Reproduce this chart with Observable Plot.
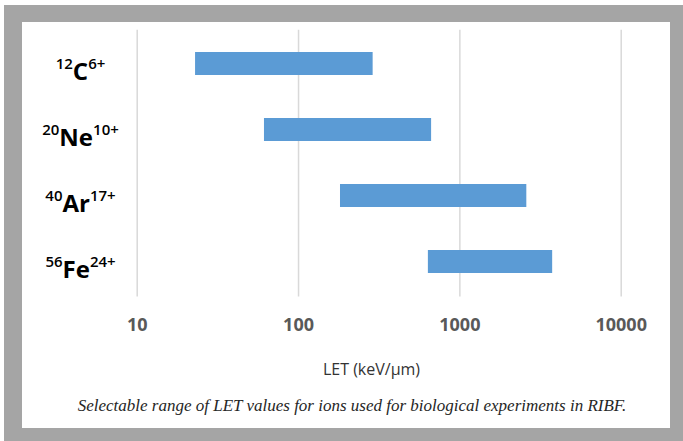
<!DOCTYPE html>
<html>
<head>
<meta charset="utf-8">
<script src="https://cdn.jsdelivr.net/npm/d3@7"></script>
<script src="https://cdn.jsdelivr.net/npm/@observablehq/plot@0.6"></script>
<style>
  html, body { margin: 0; padding: 0; background: #ffffff; width: 683px; height: 441px; overflow: hidden; }
  #frame { position: absolute; left: 4px; top: 5px; width: 679px; height: 436px; background: #a5a5a5; }
  #inner { position: absolute; left: 22px; top: 22px; width: 648px; height: 406px; background: #ffffff; }
  #chart { position: absolute; left: 22px; top: 22px; width: 648px; }
  #caption { position: absolute; left: 352px; top: 396px; transform: translateX(-50%); white-space: nowrap;
             font-family: "Liberation Serif", "DejaVu Serif", serif; font-style: italic; font-size: 17px; color: #262626; }
  g[aria-label="x-axis tick label"] text { font-weight: bold; fill: #595959; }
</style>
</head>
<body>
<div id="frame"></div>
<div id="inner"></div>
<div id="chart"></div>
<div id="caption"></div>
<script>
// ---- data ----
const ions = ["C", "Ne", "Ar", "Fe"];
const massNumbers = ["12", "20", "40", "56"];
const charges = ["6+", "10+", "17+", "24+"];
const letMin = [23, 61.5, 182, 638];
const letMax = [290, 668, 2600, 3760];
const xTicks = [10, 100, 1000, 10000];
const xLabel = "LET (keV/\u00B5m)";
const captionText = "Selectable range of LET values for ions used for biological experiments in RIBF.";

const rows = ions.map((ion, i) => ({ion, mass: massNumbers[i], charge: charges[i], lo: letMin[i], hi: letMax[i]}));

const svg = Plot.plot({
  width: 648,
  height: 370,
  marginLeft: 114.7,
  marginRight: 49.3,
  marginTop: 7.65,
  marginBottom: 95.6,
  x: {type: "log", domain: [10, 10000]},
  y: {type: "band", domain: ions, paddingInner: 0.65, paddingOuter: 0.325, axis: null},
  style: {fontFamily: "'Open Sans', sans-serif", background: "transparent", overflow: "visible"},
  marks: [
    Plot.gridX(xTicks, {stroke: "#d9d9d9", strokeOpacity: 1, strokeWidth: 1.5}),
    Plot.barX(rows, {x1: "lo", x2: "hi", y: "ion", fill: "#5b9bd5"}),
    Plot.axisX(xTicks, {tickSize: 0, tickPadding: 21, tickFormat: d => String(d), fontSize: 18, label: null}),
    Plot.text(rows, {y: "ion", text: "ion", frameAnchor: "left", dx: -56.7, textAnchor: "middle", fontSize: 24, fontWeight: "bold", fill: "#000000"}),
    Plot.text([xLabel], {text: d => d, frameAnchor: "bottom", dx: -7.7, dy: 73, fontSize: 16, fill: "#333333", lineAnchor: "middle"})
  ]
});

// superscript formatting of ion labels
const byIon = new Map(rows.map(r => [r.ion, r]));
const textGroups = svg.querySelectorAll('g[aria-label="text"]');
if (textGroups.length) {
  const g = textGroups[0];
  g.removeAttribute("dy");
  g.querySelectorAll("text").forEach(t => {
    const r = byIon.get(t.textContent);
    if (!r) return;
    t.removeAttribute("dy");
    t.textContent = "";
    const ns = "http://www.w3.org/2000/svg";
    const a = document.createElementNS(ns, "tspan");
    a.setAttribute("font-size", "15"); a.setAttribute("font-weight", "600"); a.setAttribute("dy", "-3"); a.textContent = r.mass;
    const b = document.createElementNS(ns, "tspan");
    b.setAttribute("font-size", "24"); b.setAttribute("dy", "11.5"); b.textContent = r.ion;
    const c = document.createElementNS(ns, "tspan");
    c.setAttribute("font-size", "15"); c.setAttribute("font-weight", "600"); c.setAttribute("dy", "-11.5"); c.textContent = r.charge;
    t.appendChild(a); t.appendChild(b); t.appendChild(c);
  });
}

document.getElementById("chart").appendChild(svg);
document.getElementById("caption").textContent = captionText;
</script>
</body>
</html>
